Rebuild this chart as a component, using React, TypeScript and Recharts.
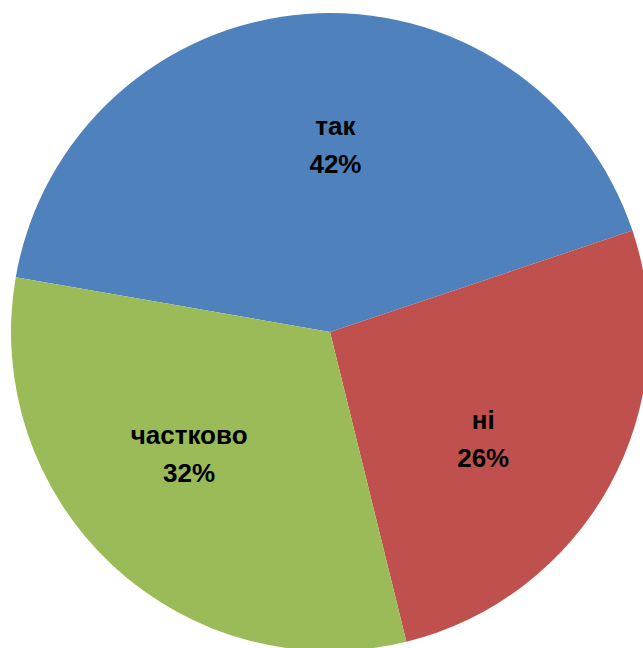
import React from "react";
import { PieChart, Pie, Cell } from "recharts";

const categories = ["так", "ні", "частково"];
const values = [42.1, 26.3, 31.6];
const colors = ["#4F81BD", "#C0504D", "#9BBB59"];

const data = categories.map((name, i) => ({ name, value: values[i] }));

const RAD = Math.PI / 180;

const renderLabel = (props: any) => {
  const { cx, cy, midAngle, outerRadius, name, percent } = props;
  const r = outerRadius * 0.585;
  const a = midAngle - 6;
  const x = cx + r * Math.cos(-a * RAD);
  const y = cy + r * Math.sin(-a * RAD);
  return (
    <text
      x={x}
      y={y}
      textAnchor="middle"
      fill="#000"
      fontFamily="'Liberation Sans', Arial, sans-serif"
      fontWeight="bold"
      fontSize={26}
    >
      <tspan x={x} dy={-10}>{name}</tspan>
      <tspan x={x} dy={38}>{`${Math.round(percent * 100)}%`}</tspan>
    </text>
  );
};

export default function App() {
  return (
    <div style={{ position: "absolute", left: 0, top: 0, width: 643, height: 648, background: "#fff" }}>
      <PieChart width={643} height={648} margin={{ top: 0, right: 0, bottom: 0, left: 0 }} style={{ overflow: "visible" }}>
        <Pie
          data={data}
          dataKey="value"
          nameKey="name"
          cx={330}
          cy={332}
          outerRadius={319}
          innerRadius={0}
          startAngle={170.1}
          endAngle={-189.9}
          stroke="none"
          label={renderLabel}
          labelLine={false}
          isAnimationActive={false}
        >
          {data.map((d, i) => (
            <Cell key={d.name} fill={colors[i]} />
          ))}
        </Pie>
      </PieChart>
    </div>
  );
}
